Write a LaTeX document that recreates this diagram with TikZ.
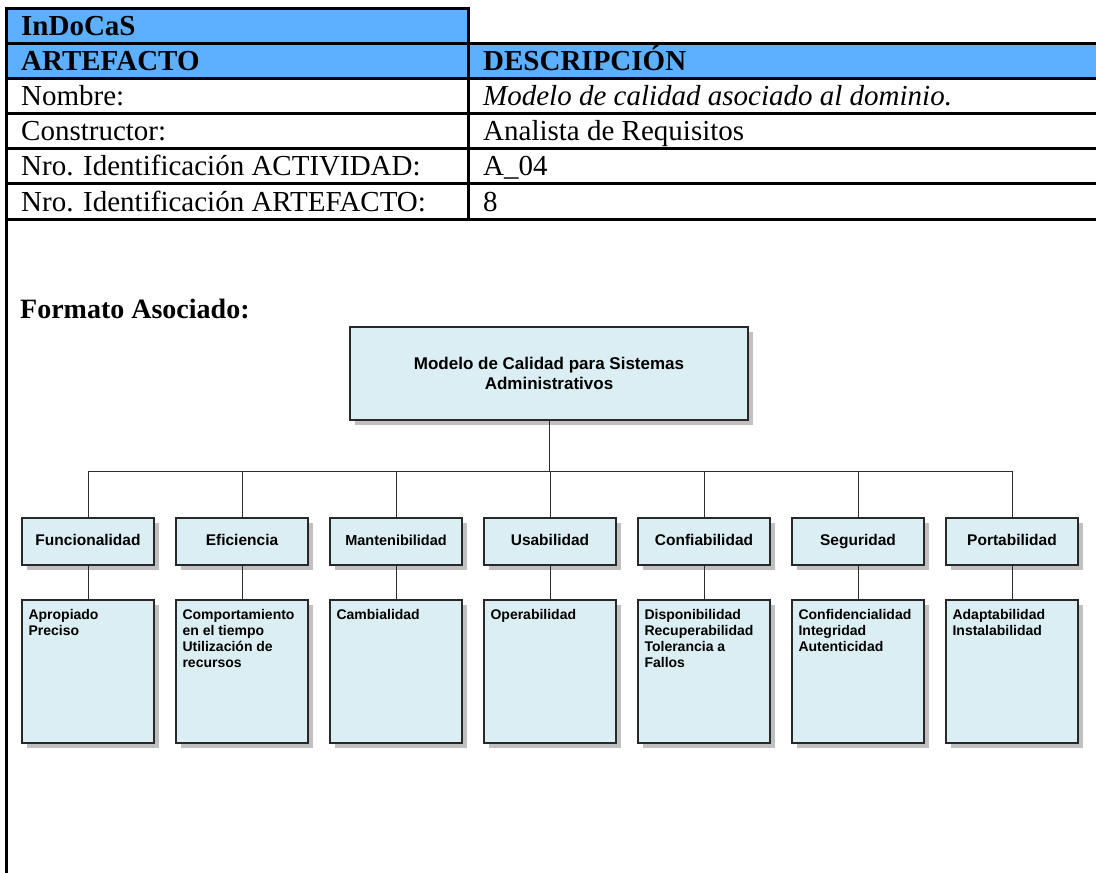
\documentclass[tikz,border=0pt]{standalone}
\usepackage{fontspec}
\setmainfont{Liberation Serif}
\newfontfamily\arialfont{Liberation Sans}
\usetikzlibrary{shadows}
\definecolor{hdrblue}{RGB}{92,176,255}
\definecolor{boxfill}{RGB}{219,238,244}
\definecolor{boxline}{RGB}{40,40,40}
\definecolor{shadowgray}{RGB}{192,192,192}
\definecolor{connline}{RGB}{45,45,45}
\begin{document}
\begin{tikzpicture}[x=1pt,y=-1pt,
  tline/.style={line width=3pt, black},
  cell/.style={anchor=base west, inner sep=0pt, font=\fontsize{29}{34}\selectfont},
  cellb/.style={anchor=base west, inner sep=0pt, font=\fontsize{29}{34}\selectfont\bfseries},
  celli/.style={anchor=base west, inner sep=0pt, font=\fontsize{29}{34}\selectfont\itshape},
  orgbox/.style={draw=boxline, line width=1.3pt, fill=boxfill, inner sep=0pt,
    drop shadow={shadow xshift=5pt, shadow yshift=-5pt, fill=shadowgray, opacity=1}},
  rootbox/.style={orgbox, minimum width=398pt, minimum height=93pt, align=center,
    font=\arialfont\bfseries\fontsize{17}{19.5}\selectfont},
  hdrbox/.style={orgbox, minimum width=132pt, minimum height=47pt,
    text height=11.2pt, text depth=2.6pt,
    font=\arialfont\bfseries\fontsize{15.5}{18}\selectfont},
  childbox/.style={orgbox, minimum width=132pt, minimum height=143pt},
  childtext/.style={anchor=north west, inner sep=0pt, align=left,
    font=\arialfont\bfseries\fontsize{14}{16}\selectfont},
  conn/.style={draw=connline, line width=1pt}
]
\useasboundingbox (0,0) rectangle (1096,873);
% table
\fill[hdrblue] (6,8) rectangle (468,43);
\fill[hdrblue] (6,43) rectangle (1096,78);
\draw[tline] (6,8) -- (468,8) -- (468,219);
\foreach \yy in {43,78,113,148,183,219} \draw[tline] (6,\yy) -- (1096,\yy);
\draw[tline] (6,6.5) -- (6,873);
\node[cellb] (t1) at (21,35) {InDoCaS};
\node[cellb] (t2) at (21,70) {ARTEFACTO};
\node[cellb] (t3) at (483,70) {DESCRIPCIÓN};
\node[cell] (t4) at (21,105) {Nombre:};
\node[celli] (t5) at (483,105) {Modelo de calidad asociado al dominio.};
\node[cell] (t6) at (21,140) {Constructor:};
\node[cell] (t7) at (483,140) {Analista de Requisitos};
\node[cell] (t8) at (21,175) {Nro. Identificación ACTIVIDAD:};
\node[cell] (t9) at (483,175) {A\_04};
\node[cell] (t10) at (21,211) {Nro. Identificación ARTEFACTO:};
\node[cell] (t11) at (483,211) {8};
\node[cellb, font=\fontsize{28}{34}\selectfont\bfseries] (fmt) at (20,318) {Formato Asociado:};
% org chart
\node[rootbox] (root) at (549,373.5) {Modelo de Calidad para Sistemas\\Administrativos};
\node[hdrbox] (h1) at (88,541.5) {Funcionalidad};
\node[hdrbox] (h2) at (242,541.5) {Eficiencia};
\node[hdrbox, font=\arialfont\bfseries\fontsize{14.5}{17}\selectfont] (h3) at (396,541.5) {Mantenibilidad};
\node[hdrbox] (h4) at (550,541.5) {Usabilidad};
\node[hdrbox] (h5) at (704,541.5) {Confiabilidad};
\node[hdrbox] (h6) at (858,541.5) {Seguridad};
\node[hdrbox] (h7) at (1012,541.5) {Portabilidad};
\foreach \i/\xx in {1/88,2/242,3/396,4/550,5/704,6/858,7/1012}
  \node[childbox] (c\i) at (\xx,671.5) {};
\node[childtext] (d1) at ([xshift=7pt,yshift=-9.5pt]c1.north west) {Apropiado\\Preciso};
\node[childtext] (d2) at ([xshift=7pt,yshift=-9.5pt]c2.north west) {Comportamiento\\en el tiempo\\Utilización de\\recursos};
\node[childtext] (d3) at ([xshift=7pt,yshift=-9.5pt]c3.north west) {Cambialidad};
\node[childtext] (d4) at ([xshift=7pt,yshift=-9.5pt]c4.north west) {Operabilidad};
\node[childtext] (d5) at ([xshift=7pt,yshift=-9.5pt]c5.north west) {Disponibilidad\\Recuperabilidad\\Tolerancia a\\Fallos};
\node[childtext] (d6) at ([xshift=7pt,yshift=-9.5pt]c6.north west) {Confidencialidad\\Integridad\\Autenticidad};
\node[childtext] (d7) at ([xshift=7pt,yshift=-9.5pt]c7.north west) {Adaptabilidad\\Instalabilidad};
\coordinate (bus) at (549,471);
\draw[conn] (root.south) -- (root.south |- bus);
\draw[conn] (h1.north |- bus) -- (h7.north |- bus);
\foreach \i in {1,...,7} {
  \draw[conn] (h\i.north |- bus) -- (h\i.north);
  \draw[conn] (h\i.south) -- (c\i.north);
}
\end{tikzpicture}
\end{document}
